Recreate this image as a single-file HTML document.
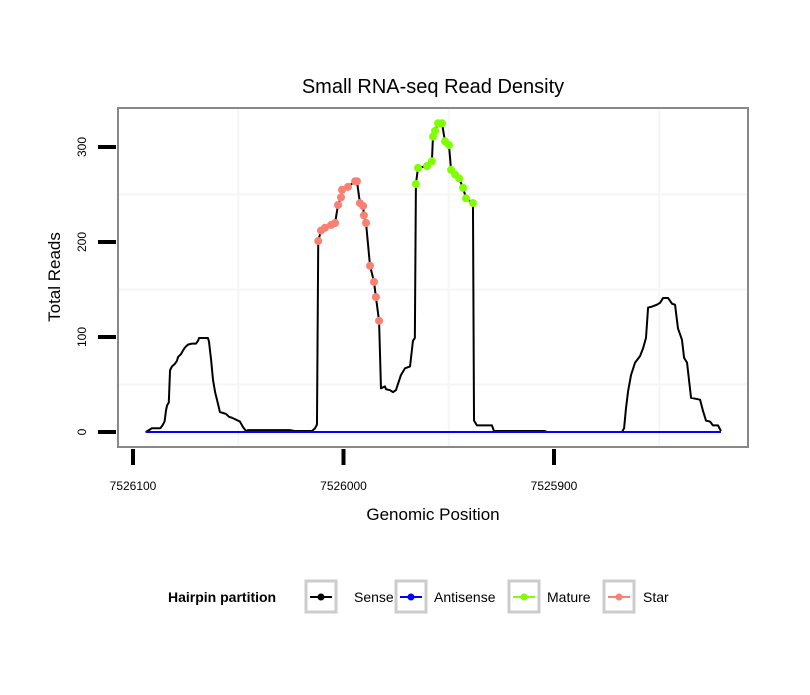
<!DOCTYPE html>
<html><head><meta charset="utf-8"><style>
body{margin:0;background:#fff;}
svg text{font-family:"Liberation Sans",sans-serif;}
</style></head><body>
<svg id="chart" width="810" height="690" xmlns="http://www.w3.org/2000/svg">
<rect width="810" height="690" fill="#fff"/>
<text x="433" y="93" font-size="20" text-anchor="middle">Small RNA-seq Read Density</text>
<rect x="118" y="108" width="630" height="339" fill="#fff"/>
<g id="grid"></g>
<g id="series"></g>
<rect x="118" y="108" width="630" height="339" fill="none" stroke="#888" stroke-width="2"/>
<g id="axes"></g>
<text x="433" y="520" font-size="17" text-anchor="middle">Genomic Position</text>
<text transform="translate(60,277) rotate(-90)" font-size="17" text-anchor="middle">Total Reads</text>
<g>
<text x="168" y="602" font-size="14" font-weight="bold">Hairpin partition</text>
<g><rect x="306" y="581" width="30" height="31" fill="#fff" stroke="#ccc" stroke-width="3"/><line x1="310" y1="597" x2="332" y2="597" stroke="#000" stroke-width="2"/><circle cx="321" cy="597" r="3.5" fill="#000"/><text x="354" y="602" font-size="14">Sense</text></g>
<g><rect x="396" y="581" width="30" height="31" fill="#fff" stroke="#ccc" stroke-width="3"/><line x1="400" y1="597" x2="422" y2="597" stroke="#00f" stroke-width="2"/><circle cx="411" cy="597" r="3.5" fill="#00f"/><text x="434" y="602" font-size="14">Antisense</text></g>
<g><rect x="509" y="581" width="30" height="31" fill="#fff" stroke="#ccc" stroke-width="3"/><line x1="513" y1="597" x2="535" y2="597" stroke="#7fff00" stroke-width="2"/><circle cx="524" cy="597" r="3.5" fill="#7fff00"/><text x="547" y="602" font-size="14">Mature</text></g>
<g><rect x="604" y="581" width="30" height="31" fill="#fff" stroke="#ccc" stroke-width="3"/><line x1="608" y1="597" x2="630" y2="597" stroke="#fa8072" stroke-width="2"/><circle cx="619" cy="597" r="3.5" fill="#fa8072"/><text x="643" y="602" font-size="14">Star</text></g>
</g>
</svg>
<script>
const positions=[7526094,7526092.4,7526091,7526087,7526086,7526085,7526084.3,7526083.8,7526083,7526082.4,7526081.5,7526080,7526079.1,7526078.6,7526077.2,7526076.2,7526075.3,7526073.9,7526072,7526070.1,7526069.1,7526068.6,7526066.7,7526064.4,7526063.9,7526062.9,7526062,7526061,7526060.1,7526058.7,7526057.2,7526055.8,7526054.4,7526053,7526051.1,7526049.2,7526047.7,7526046.3,7526045.4,7526025.4,7526023,7526015,7526013.5,7526012.6,
7526012,7526010.7,7526008.8,7526005.9,7526004,7526002.6,7526001.2,7526000.7,7525997.9,7525994.5,7525993.6,7525992.2,7525990.7,7525990.3,7525989.3,7525987.4,7525985.5,7525984.6,7525983.1,
7525982.2,7525980.3,7525979.8,7525977.9,7525976.5,7525975.1,7525973.6,7525972.7,7525970.8,7525968.4,7525967,7525966.1,
7525965.6,7525964.6,7525960.3,7525958,7525957.5,7525956.5,7525955.1,7525953.2,7525951.8,7525949.9,7525948.9,7525947,7525945.1,7525943.2,7525941.8,7525938.5,
7525938,7525936.6,7525929.5,7525928.5,7525904.3,7525903.3,7525867.7,7525866.7,7525865.8,7525864.8,7525863.4,7525861.5,7525859.1,7525857.7,7525856.3,7525855.3,7525853.4,7525851.1,7525849.6,7525848.2,7525845.8,7525843.9,7525842.5,7525841.1,7525839.2,7525838.2,7525836.8,7525834.9,7525830.6,7525829.2,7525827.8,7525825.9,7525824.5,7525822.1,7525820.7];
const reads=[0,2,4,4,7,11,23,28,31,65,69,72,75,79,82,86,89,92,93,93,96,99,99,99,95,76,55,42,34,21,20,19,16,15,13,11,5,1,2,2,1,1,4,8,
201,212,215,218,220,239,247,255,258,264,264,241,238,228,220,175,158,142,117,
46,48,45,44,42,44,54,60,67,69,96,99,
261,278,280,285,311,317,325,325,306,302,276,271,267,257,246,241,
12,7,7,1,1,0,0,4,25,43,60,73,80,88,99,131,132,134,136,141,141,135,134,109,97,78,73,36,34,22,12,11,7,7,1];
const partition=["S","S","S","S","S","S","S","S","S","S","S","S","S","S","S","S","S","S","S","S","S","S","S","S","S","S","S","S","S","S","S","S","S","S","S","S","S","S","S","S","S","S","S","S",
"T","T","T","T","T","T","T","T","T","T","T","T","T","T","T","T","T","T","T",
"S","S","S","S","S","S","S","S","S","S","S","S",
"M","M","M","M","M","M","M","M","M","M","M","M","M","M","M","M",
"S","S","S","S","S","S","S","S","S","S","S","S","S","S","S","S","S","S","S","S","S","S","S","S","S","S","S","S","S","S","S","S","S","S","S"];
const antisensePos=[7526094,7525820.7];
const antisenseReads=[0,0];
const xTicks=[7526100,7526000,7525900];
const yTicks=[0,100,200,300];
const xMinor=[7526050,7525950,7525850];
const yMinor=[50,150,250];

const NS="http://www.w3.org/2000/svg";
function xs(p){return 133+(7526100-p)*2.105;}
function ys(r){return 432-r*0.95;}
function mk(tag,attrs,parent){const e=document.createElementNS(NS,tag);for(const k in attrs)e.setAttribute(k,attrs[k]);parent.appendChild(e);return e;}
const grid=document.getElementById('grid'),series=document.getElementById('series'),axes=document.getElementById('axes');
xMinor.forEach(p=>{const l=mk('line',{x1:xs(p),x2:xs(p),y1:109,y2:446,stroke:'#f6f6f6','stroke-width':2},grid);

});
yMinor.forEach(r=>{const l=mk('line',{x1:119,x2:747,y1:ys(r),y2:ys(r),stroke:'#f6f6f6','stroke-width':2},grid);

});
const sense=mk('polyline',{points:positions.map((p,i)=>xs(p)+','+ys(reads[i])).join(' '),fill:'none',stroke:'#000','stroke-width':2,'stroke-linejoin':'round'},series);


const anti=mk('polyline',{points:antisensePos.map((p,i)=>xs(p)+','+ys(antisenseReads[i])).join(' '),fill:'none',stroke:'#00f','stroke-width':2},series);


positions.forEach((p,i)=>{if(partition[i]==='S')return;
const c=mk('circle',{cx:xs(p),cy:ys(reads[i]),r:4,fill:partition[i]==='M'?'#7fff00':'#fa8072'},series);

});
xTicks.forEach(p=>{const t=mk('line',{x1:xs(p),x2:xs(p),y1:449,y2:465,stroke:'#000','stroke-width':4},axes);


const tx=mk('text',{x:xs(p),y:490,'font-size':12,'text-anchor':'middle'},axes);tx.textContent=p;

});
yTicks.forEach(r=>{const t=mk('line',{x1:98,x2:116,y1:ys(r),y2:ys(r),stroke:'#000','stroke-width':4},axes);


const tx=mk('text',{transform:'translate(86,'+ys(r)+') rotate(-90)','font-size':12,'text-anchor':'middle'},axes);tx.textContent=r;

});
</script>
</body></html>
